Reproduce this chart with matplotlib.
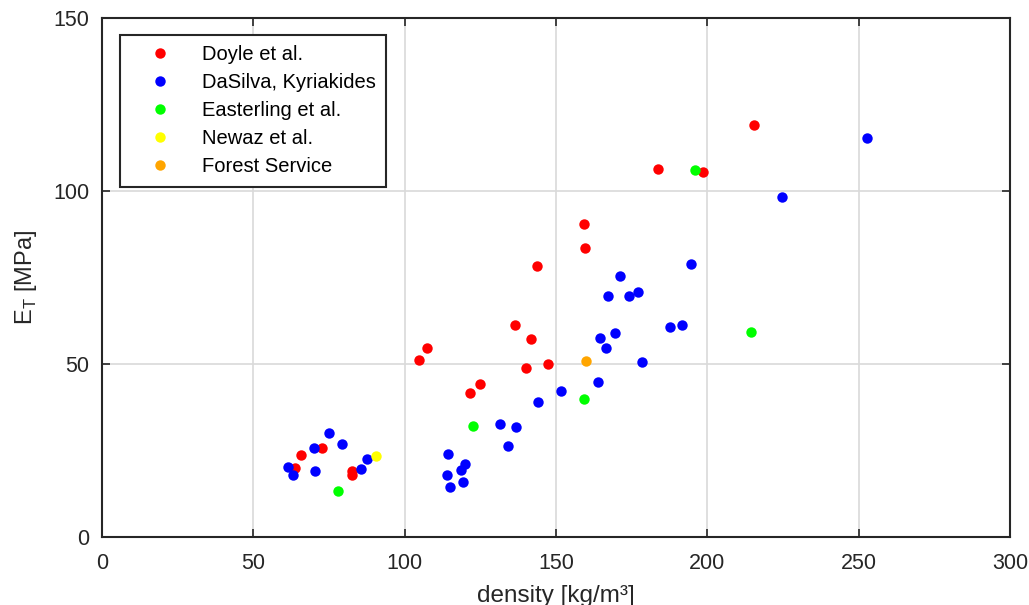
import matplotlib
matplotlib.use("Agg")
import matplotlib.pyplot as plt

plt.rcParams['font.family'] = ['Liberation Sans', 'DejaVu Sans']
plt.rcParams['mathtext.fontset'] = 'custom'
plt.rcParams['mathtext.rm'] = 'Liberation Sans'

# 데이터: density [kg/m^3], E_T [MPa]
doyle_x = [65.6, 72.7, 63.8, 82.6, 82.7, 104.8, 107.5, 121.7, 124.9, 136.4,
           141.6, 140.0, 147.3, 143.6, 159.5, 159.3, 183.8, 198.6, 215.4]
doyle_y = [23.9, 25.8, 20.0, 19.1, 17.9, 51.1, 54.8, 41.8, 44.3, 61.2,
           57.4, 48.8, 50.1, 78.5, 83.7, 90.4, 106.3, 105.5, 119.2]

dasilva_x = [75.1, 79.2, 70.0, 61.6, 63.2, 70.3, 85.7, 87.4, 114.4, 119.9,
             118.6, 114.0, 119.3, 115.1, 134.2, 131.4, 136.8, 144.0, 151.6, 164.0,
             164.5, 166.5, 169.6, 178.3, 167.2, 171.0, 174.1, 177.1, 187.7, 191.5,
             194.5, 224.7, 252.8]
dasilva_y = [30.2, 27.0, 25.8, 20.4, 18.0, 19.1, 19.6, 22.6, 24.2, 21.1,
             19.3, 18.1, 15.9, 14.5, 26.3, 32.7, 32.0, 39.2, 42.4, 45.0,
             57.7, 54.7, 59.1, 50.6, 69.6, 75.5, 69.7, 71.0, 60.7, 61.4,
             78.9, 98.2, 115.2]

easterling_x = [77.9, 122.7, 159.2, 195.8, 214.4]
easterling_y = [13.3, 32.1, 40.0, 106.0, 59.3]

newaz_x = [90.7]
newaz_y = [23.5]

forest_x = [159.8]
forest_y = [50.9]

series = [
    ("Doyle et al.", doyle_x, doyle_y, "#ff0000"),
    ("DaSilva, Kyriakides", dasilva_x, dasilva_y, "#0000ff"),
    ("Easterling et al.", easterling_x, easterling_y, "#00ff00"),
    ("Newaz et al.", newaz_x, newaz_y, "#ffff00"),
    ("Forest Service", forest_x, forest_y, "#ffa500"),
]

fig = plt.figure(figsize=(10.29, 6.05), dpi=100)
ax = fig.add_axes([0.0991, 0.1119, 0.8824, 0.8583])

for label, xs, ys, col in series:
    ax.plot(xs, ys, linestyle='none', marker='o', markersize=7.5,
            color=col, markeredgewidth=0, label=label)

ax.set_xlim(0, 300)
ax.set_ylim(0, 150)
ax.set_xticks([0, 50, 100, 150, 200, 250, 300])
ax.set_yticks([0, 50, 100, 150])
ax.grid(True, color='#d9d9d9', linewidth=1.2)
ax.set_axisbelow(True)

axis_col = '#262626'
for sp in ax.spines.values():
    sp.set_color(axis_col)
    sp.set_linewidth(1.5)
ax.tick_params(direction='in', top=True, right=True, length=6, width=1.2,
               colors=axis_col, labelsize=15.5)
ax.tick_params(axis='x', pad=11)
ax.tick_params(axis='y', pad=9)

ax.set_xlabel("density [kg/m³]", fontsize=17.5, color=axis_col, labelpad=8)
ax.set_ylabel(r"E$_\mathrm{T}$ [MPa]", fontsize=17, color=axis_col, labelpad=10)

leg = ax.legend(loc='upper left', bbox_to_anchor=(0.02, 0.967), borderaxespad=0,
                fontsize=14.5, frameon=True, fancybox=False, handlelength=3.0,
                handletextpad=0.55, borderpad=0.5, labelspacing=0.45, markerscale=1)
leg.get_frame().set_edgecolor(axis_col)
leg.get_frame().set_linewidth(1.5)
leg.get_frame().set_alpha(1)

fig.savefig("out.png", dpi=100)
